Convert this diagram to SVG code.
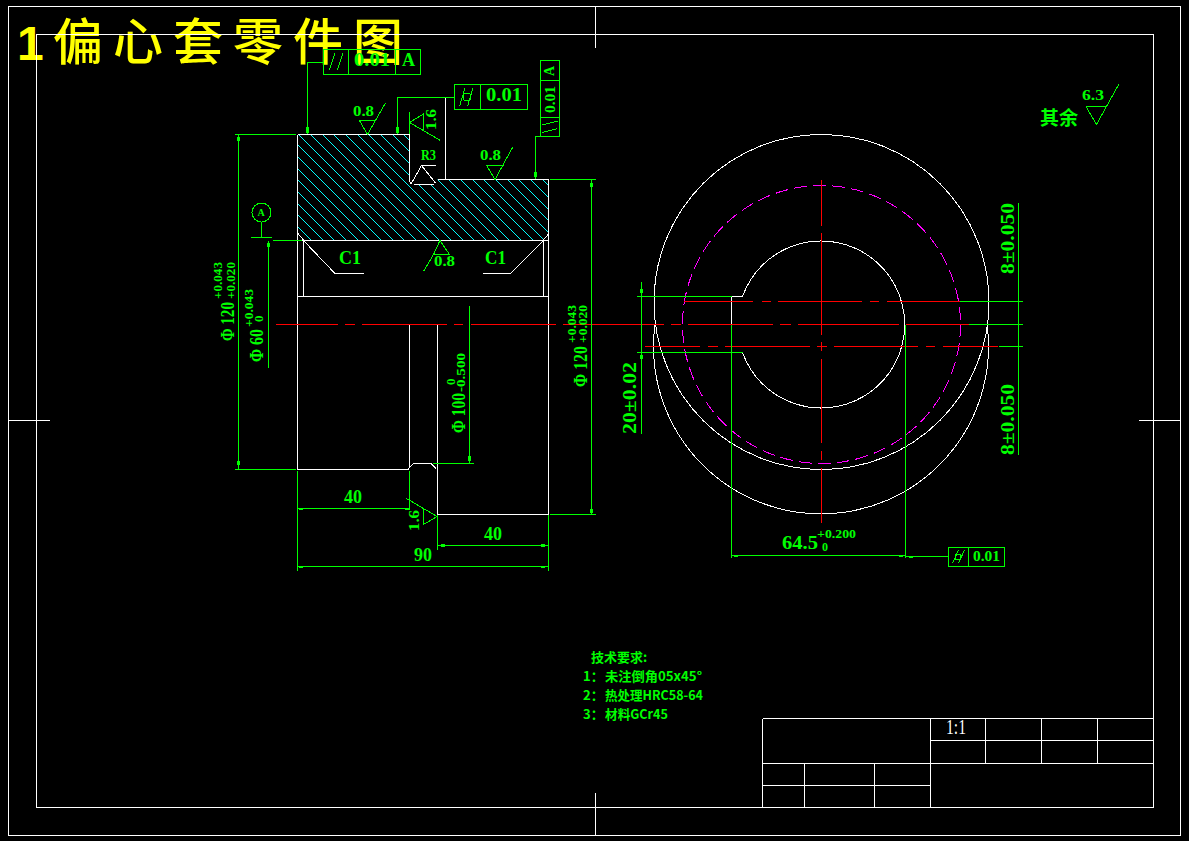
<svg xmlns="http://www.w3.org/2000/svg" width="1189" height="841" viewBox="0 0 1189 841">
<style>
.w{fill:none;stroke:#fff;stroke-width:1;shape-rendering:crispEdges}
.g{fill:none;stroke:#0f0;stroke-width:1;shape-rendering:crispEdges}
.r{fill:none;stroke:#f00;stroke-width:1;shape-rendering:crispEdges}
.m{fill:none;stroke:#f0f;stroke-width:1;stroke-dasharray:13 6;shape-rendering:crispEdges}
.h{fill:none;stroke:#0ff;stroke-width:1;shape-rendering:crispEdges}
.k{fill:none;stroke:#0f0;stroke-width:3;shape-rendering:crispEdges}
text{font-family:"Liberation Serif","Noto Sans CJK SC",serif;fill:#0f0;font-weight:700}
.t20{font-size:20px}
.t18{font-size:18px}
.t13{font-size:14px}
.cn{font-family:"Noto Sans CJK SC","Liberation Sans",sans-serif;font-size:13px}
</style>
<defs>
<clipPath id="sec"><path d="M297.5 134.5H409.5V181L412 184.5H433L437.5 179.5H548.5V234L543 240.5H304L297.5 233Z"/></clipPath>
</defs>
<rect width="1189" height="841" fill="#000"/>

<g id="title">
<text x="17" y="60" style="font-family:'Liberation Sans',sans-serif;font-size:48px;fill:#ff0;font-weight:700">1</text>
<text x="53" y="60" style="font-family:'Noto Sans CJK SC',sans-serif;font-size:50px;fill:#ff0;font-weight:500;letter-spacing:10px">偏心套零件图</text>
</g>

<g id="sheet-frame">
<rect class="w" x="8.5" y="6.5" width="1172" height="829"/>
<rect class="w" x="36.5" y="34.5" width="1117" height="773"/>
<path class="w" d="M595.5 6.5V48M595.5 793V835.5M8.5 420.5H50M1139 420.5H1180.5"/>
</g>

<g id="title-block">
<path class="w" d="M762.5 718.5H1153.5M762.5 718.5V807.5M762.5 763.5H1153.5M930.5 740.5H1153.5M762.5 785.5H930.5M930.5 718.5V807.5M985.5 718.5V763.5M1041.5 718.5V763.5M1097.5 718.5V763.5M804.5 763.5V807.5M874.5 763.5V807.5"/>
<text x="946" y="734" textLength="20" lengthAdjust="spacingAndGlyphs" style="fill:#fff;font-size:21px;font-weight:400">1:1</text>
</g>

<g id="section-view">
<path class="h" clip-path="url(#sec)" d="M193 134l106 106M205 134l106 106M217 134l106 106M228 134l106 106M240 134l106 106M252 134l106 106M263 134l106 106M275 134l106 106M287 134l106 106M298 134l106 106M310 134l106 106M322 134l106 106M333 134l106 106M345 134l106 106M357 134l106 106M368 134l106 106M380 134l106 106M392 134l106 106M403 134l106 106M415 134l106 106M427 134l106 106M438 134l106 106M450 134l106 106M462 134l106 106M473 134l106 106M485 134l106 106M497 134l106 106M508 134l106 106M520 134l106 106M532 134l106 106M543 134l106 106"/>
<path class="w" d="M297.5 134.5H409.5V181L411.5 184.5M413.5 184.5H433.5M437.5 179.5H548.5V514.5H437.5V325M297.5 134.5V469.5H408L410 467L412 465L414 463.5H431L433 465.5L436 468.5M409.5 325V467M297.5 240.5H548.5M297.5 296.5H548.5M303.5 240.5V296.5M543.5 240.5V296.5M297.5 233L304 240.5M548.5 234L543 240.5M303.5 240.5L335 273.5H364M543.5 240.5L510.5 273.5H483M445.5 97.5V179.5M435.5 165.5H421.5L411 184M421.5 165.5L435.5 183"/>
<text class="t18" x="339" y="264" textLength="22" lengthAdjust="spacingAndGlyphs">C1</text>
<text class="t18" x="485" y="264" textLength="21" lengthAdjust="spacingAndGlyphs">C1</text>
<text class="t13" x="421" y="160" textLength="15" lengthAdjust="spacingAndGlyphs">R3</text>
</g>

<g id="front-view">
<circle class="w" cx="821.5" cy="302" r="167.5"/>
<path class="w" d="M655 324A167.5 167.5 0 1 0 987 324"/>
<circle class="m" cx="821.5" cy="324.5" r="139"/>
<path class="w" d="M731.5 325V296.5H742.5A83.5 83.5 0 1 1 742.5 352.5"/>
</g>

<g id="centerlines">
<path class="r" d="M276 324.5H337.5M345 324.5H355M362 324.5H447M454 324.5H463M471 324.5H556M563 324.5H664M671 324.5H681M688 324.5H773M780 324.5H791M798 324.5H899M906 324.5H969"/>
<path class="r" d="M684 301.5H753M762 301.5H771M778 301.5H862M870 301.5H879M887 301.5H960"/>
<path class="r" d="M645 346.5H700M708 346.5H718M725 346.5H810M817 346.5H827M834 346.5H918M926 346.5H935M943 346.5H998"/>
<path class="r" d="M821.5 180V225.5M821.5 233V335M821.5 342V351M821.5 359V443M821.5 451V460M821.5 468V523"/>
</g>

<g id="connectors">
<path class="g" d="M235 134.5H296M235 469.5H296M238.5 134.5V469.5M273 240.5H302M268.5 240.5V367.5M433 463.5H474M469.5 306V463.5M550 179.5H596M550 514.5H596M591.5 179.5V514.5"/>
<path class="g" d="M297.5 471V571M409.5 471V510M437.5 515V550M548.5 515V571M297.5 508.5H409.5M437.5 545.5H548.5M297.5 566.5H548.5"/>
<path class="g" d="M960 301.5H1023M969 324.5H1023M999 346.5H1023M1018.5 203V455M637 296.5H731.5M637 352.5H742.5M641.5 282V433.5M731.5 325V558M905.5 325V558M731.5 555.5H905.5M905.5 556.5H948.5"/>
<path class="k" d="M238.5 137V141M238.5 461V465M268.5 243V247M307.5 127V133M397.5 127V133M591.5 183V187M591.5 509V513M469.5 456V461M535.5 172V177M641.5 289V293M641.5 355V359"/>
<path class="g" d="M299 509.5H303M405 509.5H409M299 567.5H303M541 567.5H545M734 556.5H738M899 556.5H903M909 557.5H913"/>
<path class="k" d="M441 545.5H445M541 545.5H545"/>
</g>

<g id="datum-a">
<circle class="g" cx="261.5" cy="212.5" r="9.5"/>
<path class="g" d="M261.5 222V237.5M251 237.5H272"/>
<text x="257.5" y="216" style="font-size:10px">A</text>
</g>

<g id="tolerance-frames">
<path class="g" d="M323.5 49.5H420.5V74.5H323.5ZM348.5 49.5V74.5M395.5 49.5V74.5M323.5 62.5H307.5V134M329.5 70L335 53M337.5 70L343 53"/>
<text class="t18" x="354" y="66" textLength="36" lengthAdjust="spacingAndGlyphs">0.01</text>
<text class="t18" x="402" y="66" textLength="13" lengthAdjust="spacingAndGlyphs">A</text>
<path class="g" d="M454.5 84.5H527.5V109.5H454.5ZM480.5 84.5V109.5M454.5 97.5H397.5V134M459.5 106.5L465 88M467.5 106.5L473 88"/>
<circle class="g" cx="467" cy="97" r="4"/>
<text class="t18" x="486" y="101" textLength="36" lengthAdjust="spacingAndGlyphs">0.01</text>
<path class="g" d="M540.5 60.5H559.5V136.5H540.5ZM540.5 80.5H559.5M540.5 117.5H559.5M540.5 136.5H535.5V179M542.5 125L557.5 121M542.5 132.5L557.5 128.5"/>
<text class="t13" transform="translate(554 76) rotate(-90)" textLength="10" lengthAdjust="spacingAndGlyphs">A</text>
<text class="t13" transform="translate(555 113) rotate(-90)" textLength="27" lengthAdjust="spacingAndGlyphs">0.01</text>
<path class="g" d="M948.5 547.5H1004.5V566.5H948.5ZM968.5 547.5V566.5M952.5 563.5L958.5 550M958.5 563.5L964.5 550"/>
<circle class="g" cx="958" cy="557" r="3"/>
<text class="t13" x="973" y="561" textLength="27" lengthAdjust="spacingAndGlyphs">0.01</text>
</g>

<g id="roughness-marks">
<path class="g" d="M359.5 120.5H375.5M359.5 120.5L367.5 134.5L385.5 103M486.5 165.5H503.5M486.5 165.5L495 179.5L512.5 147.5M449.5 254.5H433.5L440 240.5L449.5 254.5M433.5 254.5L423.5 271.5M409.5 111.5V134M409.5 122.5L423.5 114V130M409.5 122.5L440.5 140.5M437 516.5L406.5 498.5M437 516.5L423.5 524.5V507.5M1086 106.5H1107M1086 106.5L1096.5 124.5L1119 84"/>
<text class="t13" x="353" y="116" textLength="21" lengthAdjust="spacingAndGlyphs">0.8</text>
<text class="t13" x="480" y="160" textLength="21" lengthAdjust="spacingAndGlyphs">0.8</text>
<text class="t13" x="434" y="266" textLength="21" lengthAdjust="spacingAndGlyphs">0.8</text>
<text class="t13" transform="translate(436 130) rotate(-90)" textLength="21" lengthAdjust="spacingAndGlyphs">1.6</text>
<text class="t13" transform="translate(419 531) rotate(-90)" textLength="21" lengthAdjust="spacingAndGlyphs">1.6</text>
<text class="t13" x="1082" y="100" textLength="22" lengthAdjust="spacingAndGlyphs">6.3</text>
<text x="1040" y="125" style="font-family:'Noto Sans CJK SC',sans-serif;font-size:19px;font-weight:700">其余</text>
</g>

<g id="dimension-texts">
<text class="t18" x="344" y="503" textLength="18" lengthAdjust="spacingAndGlyphs">40</text>
<text class="t18" x="484" y="540" textLength="18" lengthAdjust="spacingAndGlyphs">40</text>
<text class="t18" x="414" y="561" textLength="18" lengthAdjust="spacingAndGlyphs">90</text>
<text class="t18" transform="translate(234 341) rotate(-90)" textLength="39" lengthAdjust="spacingAndGlyphs">Φ 120</text>
<text style="font-size:12px" transform="translate(222 299) rotate(-90)" textLength="37" lengthAdjust="spacingAndGlyphs">+0.043</text>
<text style="font-size:12px" transform="translate(235 299) rotate(-90)" textLength="37" lengthAdjust="spacingAndGlyphs">+0.020</text>
<text class="t18" transform="translate(263 362) rotate(-90)" textLength="33" lengthAdjust="spacingAndGlyphs">Φ 60</text>
<text style="font-size:12px" transform="translate(253 327) rotate(-90)" textLength="38" lengthAdjust="spacingAndGlyphs">+0.043</text>
<text style="font-size:13px" transform="translate(263 322) rotate(-90)" textLength="8">0</text>
<text class="t18" transform="translate(465 433) rotate(-90)" textLength="40" lengthAdjust="spacingAndGlyphs">Φ 100</text>
<text style="font-size:12px" transform="translate(465 392) rotate(-90)" textLength="39" lengthAdjust="spacingAndGlyphs">-0.500</text>
<text style="font-size:13px" transform="translate(455 385) rotate(-90)" textLength="8">0</text>
<text class="t18" transform="translate(587 387) rotate(-90)" textLength="41" lengthAdjust="spacingAndGlyphs">Φ 120</text>
<text style="font-size:12px" transform="translate(576 343) rotate(-90)" textLength="38" lengthAdjust="spacingAndGlyphs">+0.043</text>
<text style="font-size:12px" transform="translate(587 343) rotate(-90)" textLength="38" lengthAdjust="spacingAndGlyphs">+0.020</text>
<text class="t18" transform="translate(1014 274) rotate(-90)" textLength="71" lengthAdjust="spacingAndGlyphs">8±0.050</text>
<text class="t18" transform="translate(1014 455) rotate(-90)" textLength="71" lengthAdjust="spacingAndGlyphs">8±0.050</text>
<text class="t18" transform="translate(636 434) rotate(-90)" textLength="72" lengthAdjust="spacingAndGlyphs">20±0.02</text>
<text class="t18" x="782" y="549" textLength="36" lengthAdjust="spacingAndGlyphs">64.5</text>
<text style="font-size:12px" x="817" y="538" textLength="39" lengthAdjust="spacingAndGlyphs">+0.200</text>
<text style="font-size:12px" x="822" y="551" textLength="8">0</text>
</g>

<g id="technical-notes">
<text class="cn" x="591" y="662">技术要求:</text>
<text class="cn" x="583" y="681">1：</text>
<text class="cn" x="605" y="681" textLength="97" lengthAdjust="spacingAndGlyphs">未注倒角05x45°</text>
<text class="cn" x="583" y="700">2：</text>
<text class="cn" x="605" y="700" textLength="98" lengthAdjust="spacingAndGlyphs">热处理HRC58-64</text>
<text class="cn" x="583" y="719">3：</text>
<text class="cn" x="605" y="719" textLength="63" lengthAdjust="spacingAndGlyphs">材料GCr45</text>
</g>
</svg>
